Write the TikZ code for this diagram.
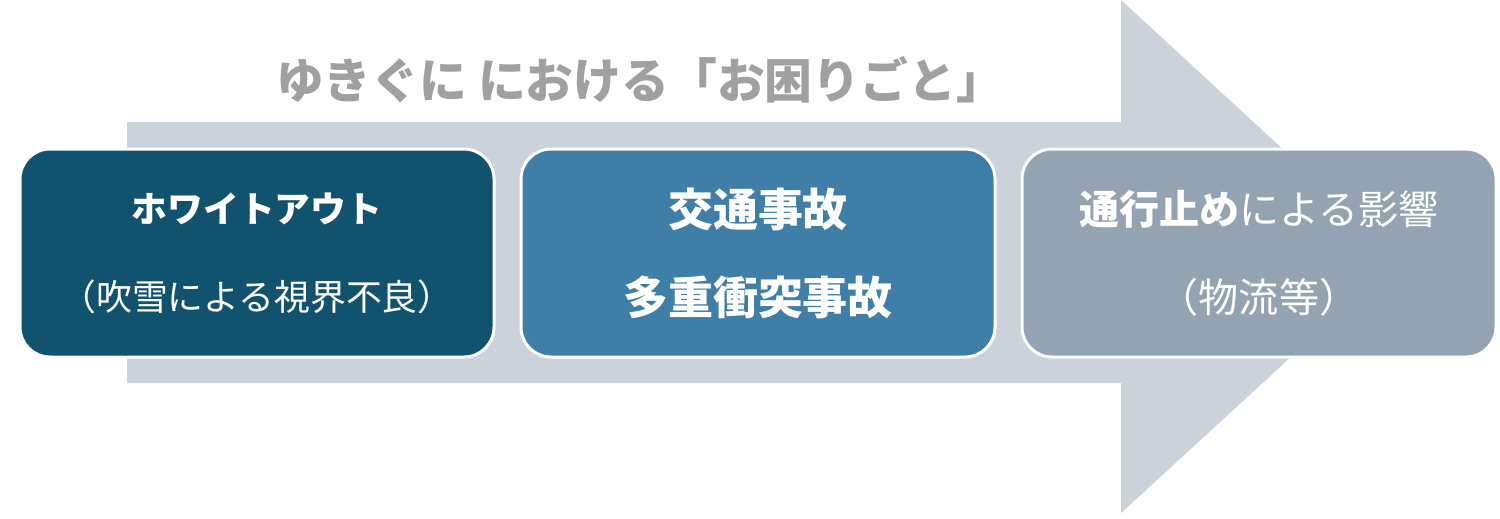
\documentclass[tikz,border=0pt]{standalone}
\usepackage{fontspec}
\setmainfont{Noto Sans CJK JP}
\usetikzlibrary{positioning}
\definecolor{203_210_218}{RGB}{203, 210, 218}
\definecolor{17_83_111}{RGB}{17, 83, 111}
\definecolor{63_126_166}{RGB}{63, 126, 166}
\definecolor{148_163_178}{RGB}{148, 163, 178}
\definecolor{160_160_160}{RGB}{160, 160, 160}
\definecolor{white}{RGB}{255, 255, 255}

\begin{document}
\begin{tikzpicture}[
        x=0.1mm,
        y=-0.1mm,
        node distance=2.4mm,
        every node/.style={inner sep=0pt},
        stagebox/.style={
            rectangle,
            rounded corners=3mm,
            draw=white,
            line width=0.3mm,
            minimum width=47.4mm,
            minimum height=20.8mm,
            align=center,
            text=white
        },
        title/.style={
            text=160_160_160,
            font=\fontsize{13.6pt}{15pt}\selectfont\bfseries
        }
    ]

    \useasboundingbox (0,0) rectangle (1500,518);

    % big arrow behind the boxes
    \fill[203_210_218] (127,122) -- (1121,122) -- (1121,0) -- (1400,257)
        -- (1121,513) -- (1121,383) -- (127,383) -- cycle;

    \node[title] (heading) at (640,80) {ゆきぐに\ における「お困りごと」};

    \node[stagebox, fill=17_83_111,
          font=\fontsize{10.2pt}{25pt}\selectfont] (whiteout) at (257,253)
        {\textbf{ホワイトアウト}\\（吹雪による視界不良）};
    \node[stagebox, fill=63_126_166, right=of whiteout,
          font=\fontsize{12.8pt}{25pt}\selectfont\bfseries] (accident)
        {交通事故\\多重衝突事故};
    \node[stagebox, fill=148_163_178, right=of accident,
          font=\fontsize{11.4pt}{25pt}\selectfont] (closure)
        {\textbf{通行止め}による影響\\（物流等）};

\end{tikzpicture}
\end{document}
